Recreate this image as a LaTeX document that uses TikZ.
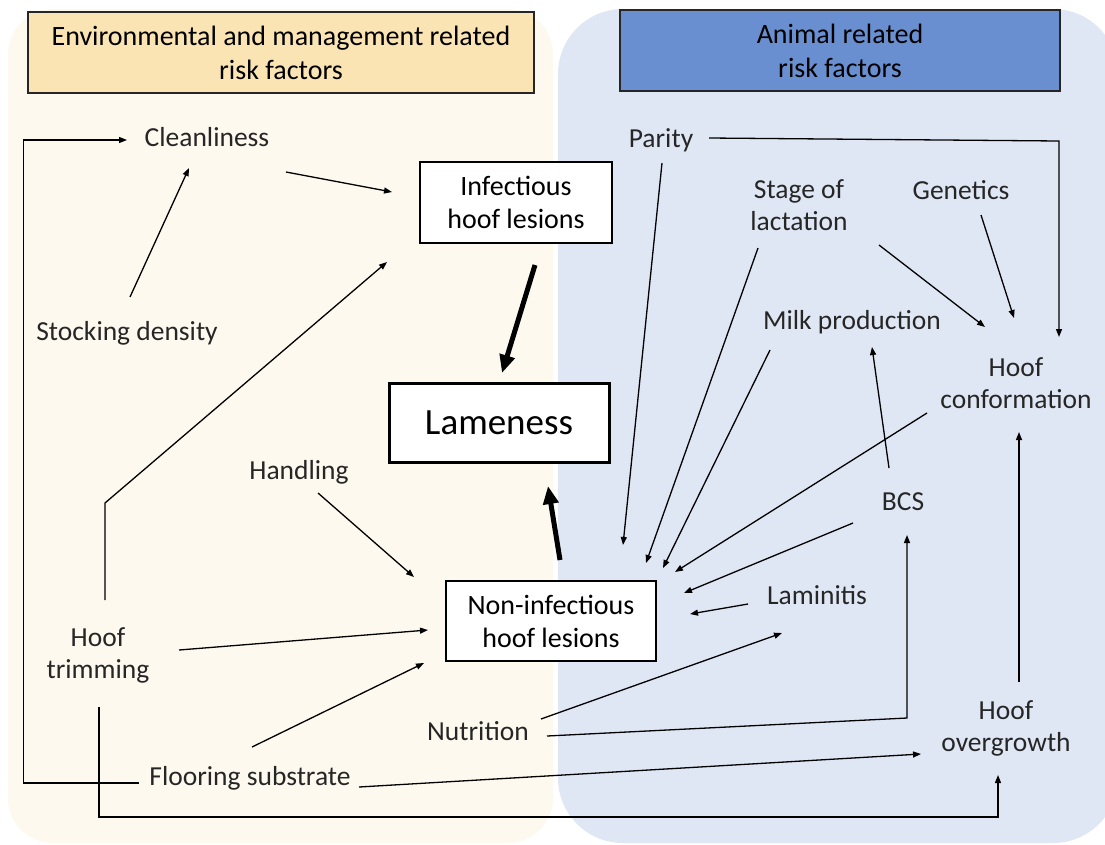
\documentclass[tikz,border=0pt]{standalone}
\usepackage{fontspec}
\setmainfont{Carlito}
\usetikzlibrary{arrows.meta,calc}
\definecolor{creambg}{HTML}{FEF9EE}
\definecolor{bluebg}{HTML}{E0E7F4}
\definecolor{hdrtan}{HTML}{FBE4B3}
\definecolor{hdrblue}{HTML}{6A8FD0}
\definecolor{lbltext}{HTML}{262626}
\begin{document}
\begin{tikzpicture}[x=1pt,y=-1pt,
  lbl/.style={font=\fontsize{27.5}{32}\selectfont, text=lbltext, align=center, inner sep=0pt},
  box/.style={draw, line width=1.5pt, fill=white, font=\fontsize{28}{33}\selectfont, align=center, inner sep=0pt},
  hdr/.style={draw=black!85, line width=2pt, font=\fontsize{28}{34}\selectfont, align=center, inner sep=0pt},
  arr/.style={line width=1.3pt, -{Triangle[length=8pt,width=6pt]}},
  bigarr/.style={line width=5pt, -{Triangle[length=18pt,width=15pt]}}]
\useasboundingbox (0,0) rectangle (1105,844);
\fill[white] (0,0) rectangle (1105,844);
% panels
\fill[creambg, rounded corners=45pt] (8,9) rectangle (553,843);
\fill[bluebg, rounded corners=65pt] (558,9) rectangle (1118,843);
% headers
\node[hdr, fill=hdrtan, minimum width=506pt, minimum height=81pt] (hdrL) at (281,52.5) {Environmental and management related\\risk factors};
\node[hdr, fill=hdrblue, minimum width=440pt, minimum height=81pt] (hdrR) at (840,50.5) {Animal related\\risk factors};
% boxes
\node[box, minimum width=192pt, minimum height=81pt] (infect) at (516,202.5) {Infectious\\hoof lesions};
\node[box, line width=3pt, minimum width=220pt, minimum height=79pt, font=\fontsize{37}{42}\selectfont] (lame) at (499,422.5) {Lameness};
\node[box, minimum width=210pt, minimum height=80pt] (noninf) at (551,621) {Non-infectious\\hoof lesions};
% labels
\node[lbl] (clean) at (207,137) {Cleanliness};
\node[lbl] (stock) at (127,333) {Stocking density};
\node[lbl] (handling) at (299,472) {Handling};
\node[lbl] (trim) at (98,655) {Hoof\\trimming};
\node[lbl] (floor) at (250,778) {Flooring substrate};
\node[lbl] (nut) at (478,731) {Nutrition};
\node[lbl] (parity) at (661,140) {Parity};
\node[lbl] (stage) at (799,205.5) {Stage of\\lactation};
\node[lbl] (gen) at (961,190) {Genetics};
\node[lbl] (milk) at (852,322) {Milk production};
\node[lbl] (hc) at (1016,383.5) {Hoof\\conformation};
\node[lbl] (bcs) at (903,502) {BCS};
\node[lbl] (lam) at (817,595) {Laminitis};
\node[lbl] (over) at (1006,728.5) {Hoof\\overgrowth};
\coordinate (loopL) at (23.5,140);
% connectors left
\draw[arr] ($(stock)+(3,-36)$) -- ($(clean)+(-18,31)$);
\draw[arr] ($(clean)+(79,35)$) -- ($(infect)+(-124,-10.5)$);
\draw[arr] ($(floor)+(-111,5)$) -| (loopL) -- ($(clean)+(-80,3)$);
\draw[arr] ($(trim)+(7,-55)$) -- ++(0,-97) -- ($(infect)+(-129,59.5)$);
\draw[arr] ($(trim)+(81,-5)$) -- ($(noninf)+(-123,9)$);
\draw[arr] ($(floor)+(2,-31)$) -- ($(noninf)+(-127,42)$);
\draw[arr] ($(handling)+(19,21)$) -- ($(noninf)+(-137,-44)$);
\draw[arr] ($(trim)+(1,52)$) -- ++(0,110) -| ($(over)+(-8,46.5)$);
\draw[arr] ($(floor)+(109,9)$) -- ($(over)+(-85,25.5)$);
% connectors right
\draw[arr] ($(nut)+(69,5)$) -- ($(bcs)+(4,216)$) -- ($(bcs)+(4,33)$);
\draw[arr] ($(nut)+(63,-12)$) -- ($(lam)+(-35,38)$);
\draw[arr] ($(lam)+(-69,9)$) -- ($(noninf)+(139,-7)$);
\draw[arr] ($(bcs)+(-50,21)$) -- ($(noninf)+(133,-28)$);
\draw[arr] ($(hc)+(-89,29.5)$) -- ($(noninf)+(124,-49)$);
\draw[arr] ($(milk)+(-82,28)$) -- ($(noninf)+(112,-53)$);
\draw[arr] ($(stage)+(-41,42.5)$) -- ($(noninf)+(95,-58)$);
\draw[arr] ($(parity)+(1,23)$) -- ($(noninf)+(72,-76)$);
\draw[arr] ($(parity)+(48,-2)$) -- ($(hc)+(43,-242.5)$) -- ($(hc)+(43,-46.5)$);
\draw[arr] ($(stage)+(80,39.5)$) -- ($(hc)+(-31,-56.5)$);
\draw[arr] ($(gen)+(20,25)$) -- ($(hc)+(-2,-65.5)$);
\draw[arr] ($(bcs)+(-14,-34)$) -- ($(milk)+(20,25)$);
\draw[arr] ($(over)+(13,-46.5)$) -- ($(hc)+(3,48.5)$);
% thick arrows
\draw[bigarr] ($(infect)+(19,62.5)$) -- ($(lame)+(3,-49.5)$);
\draw[bigarr] ($(noninf)+(9,-61)$) -- ($(lame)+(49,63.5)$);
\end{tikzpicture}
\end{document}
